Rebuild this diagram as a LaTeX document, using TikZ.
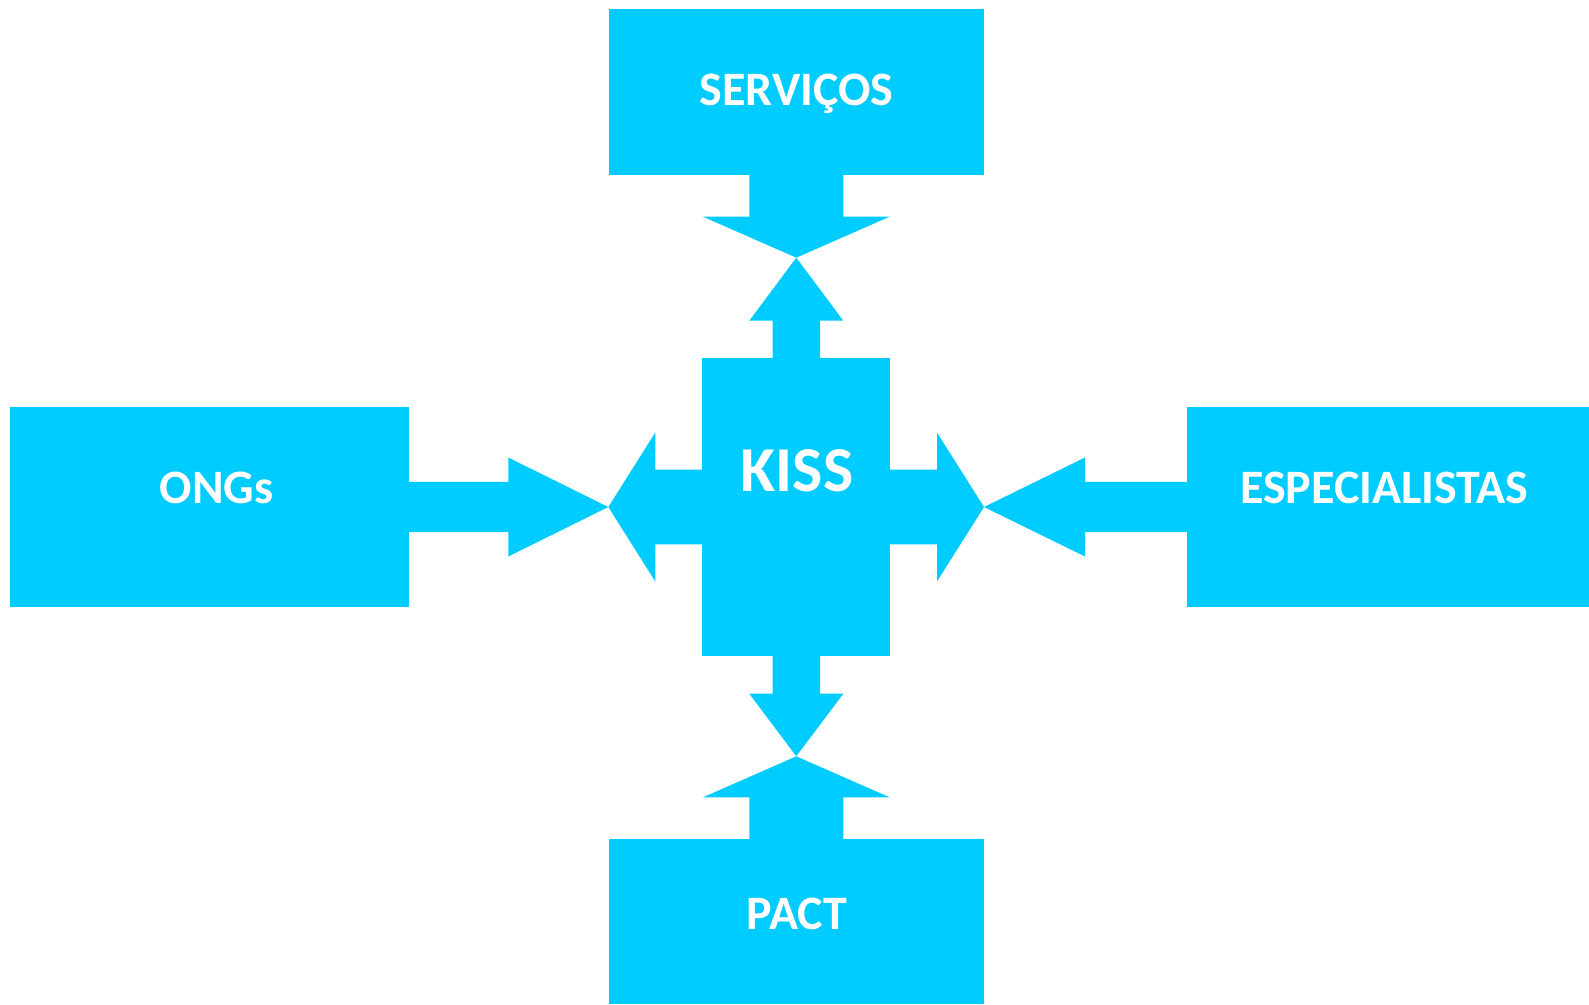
\documentclass[tikz,border=0pt]{standalone}
\usepackage{fontspec}
\setmainfont{Carlito}
\usetikzlibrary{calc}
\definecolor{sky}{RGB}{0,204,255}
\tikzset{
  box/.style={fill=sky, draw=none, inner sep=0pt, outer sep=0pt},
  blockfill/.style={fill=sky, draw=none},
  lbl/.style={text=white, inner sep=0pt, font=\bfseries\fontsize{48}{56}\selectfont},
  biglbl/.style={text=white, inner sep=0pt, font=\bfseries\fontsize{64}{74}\selectfont}
}
% block arrow: #1 name, #2 from, #3 tip, #4 shaft half width, #5 head half width, #6 head length
% the shaft starts a little inside the source box so no seam shows
\newcommand\blockarrow[6]{%
  \coordinate (#1h) at ($(#3)!#6!(#2)$);
  \coordinate (#1s) at ($(#2)!-3pt!(#3)$);
  \fill[blockfill] ($(#1s)!#4!90:(#3)$) -- ($(#1h)!#4!90:(#3)$) -- ($(#1h)!#5!90:(#3)$)
    -- (#3) -- ($(#1h)!#5!-90:(#3)$) -- ($(#1h)!#4!-90:(#3)$) -- ($(#1s)!#4!-90:(#3)$) -- cycle;
}
\begin{document}
\begin{tikzpicture}[x=1pt, y=-1pt]
\useasboundingbox (0,0) rectangle (1589,1004);

% boxes
\node[box, minimum width=375pt, minimum height=166pt] (serv) at (796.3,92) {};
\node[box, minimum width=187.7pt, minimum height=298pt] (kiss) at (796.3,507) {};
\node[box, minimum width=398.5pt, minimum height=200pt] (ongs) at (209.25,507) {};
\node[box, minimum width=402.3pt, minimum height=200pt] (esp) at (1387.85,507) {};
\node[box, minimum width=375pt, minimum height=164.7pt] (pact) at (796.3,921.65) {};

% meeting points of the arrow tips
\coordinate (tipT) at (796.3,257.7);
\coordinate (tipB) at (796.3,756.3);
\coordinate (tipL) at (608.3,507);
\coordinate (tipR) at (984,507);

% arrows
\blockarrow{a1}{serv.south}{tipT}{47pt}{93.3pt}{41pt}
\blockarrow{a2}{kiss.north}{tipT}{23.7pt}{47pt}{63pt}
\blockarrow{a3}{kiss.south}{tipB}{23.7pt}{47pt}{62.6pt}
\blockarrow{a4}{pact.north}{tipB}{47pt}{93.3pt}{41pt}
\blockarrow{a5}{kiss.west}{tipL}{37.3pt}{74.5pt}{47pt}
\blockarrow{a6}{kiss.east}{tipR}{37.3pt}{74.5pt}{47pt}
\blockarrow{a7}{ongs.east}{tipL}{25.2pt}{49.5pt}{100pt}
\blockarrow{a8}{esp.west}{tipR}{25.2pt}{49.5pt}{101pt}

% labels
\node[lbl, anchor=base] (servT) at (796.5,105.4) {SERVIÇOS};
\node[biglbl, anchor=base] (kissT) at (797,491.7) {KISS};
\node[lbl, anchor=base] (ongsT) at (216.5,503.6) {ONGs};
\node[lbl, anchor=base] (espT) at (1384.3,503.6) {ESPECIALISTAS};
\node[lbl, anchor=base] (pactT) at (797,929.3) {PACT};
\end{tikzpicture}
\end{document}
